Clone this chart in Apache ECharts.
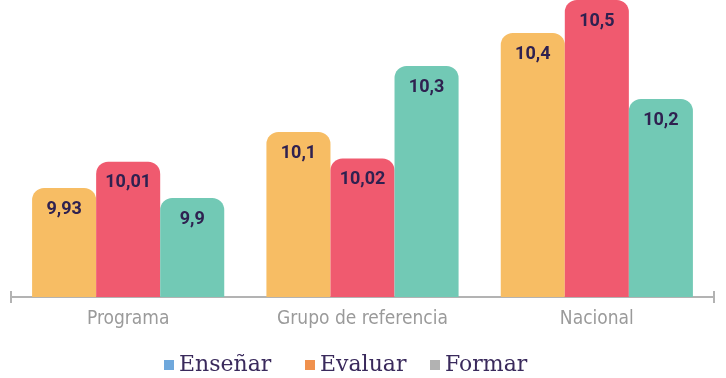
<!DOCTYPE html>
<html>
<head>
<meta charset="utf-8">
<title>Resultados</title>
<script src="https://cdn.jsdelivr.net/npm/echarts@6/dist/echarts.min.js"></script>
<style>
  html, body { margin: 0; padding: 0; background: #fff; }
  #chart { width: 726px; height: 378px; }
</style>
</head>
<body>
<div id="chart"></div>
<script>
// categorias y valores
var categorias = ['Programa', 'Grupo de referencia', 'Nacional'];
var ensenar = [9.93, 10.1, 10.4];
var evaluar = [10.01, 10.02, 10.5];
var formar = [9.9, 10.3, 10.2];

var nombres = ['Enseñar', 'Evaluar', 'Formar'];
var coloresBarra = ['#f7bd64', '#f05a6f', '#72c9b5'];
var coloresLeyenda = ['#6fa8dc', '#f0914d', '#b2b2b2'];
var leyendaIzq = [159, 300, 425];

// etiqueta con coma decimal
function etiqueta(p) {
	return String(p.value).replace('.', ',');
}

function serie(nombre, datos, color) {
	return {
		name: nombre,
		type: 'bar',
		barGap: 0,
		barCategoryGap: '18%',
		itemStyle: { color: color, borderRadius: [12, 12, 0, 0] },
		label: {
			show: true,
			position: 'insideTop',
			distance: 12,
			formatter: etiqueta,
			color: '#2f2150',
			fontFamily: 'Roboto',
			fontWeight: 'bold',
			fontSize: 18
		},
		data: datos
	};
}

// una leyenda por elemento (espaciado irregular del original)
function leyenda(i) {
	return {
		left: leyendaIzq[i],
		top: 349,
		icon: 'rect',
		itemWidth: 10,
		itemHeight: 10,
		textStyle: { fontFamily: 'DejaVu Serif', fontSize: 22, color: '#3a2a5c' },
		data: [{ name: nombres[i], itemStyle: { color: coloresLeyenda[i] } }]
	};
}

var myChart = echarts.init(document.getElementById('chart'));

var option = {
	animation: false,
	grid: { left: 11, right: 12, top: 0, bottom: 81, outerBoundsMode: 'none' },
	legend: [leyenda(0), leyenda(1), leyenda(2)],
	xAxis: [{
		type: 'category',
		data: categorias,
		axisLine: { lineStyle: { color: '#b3b3b3', width: 2 } },
		axisTick: { show: false },
		axisLabel: { margin: 13, color: '#9a9a9a', fontFamily: "'DejaVu Sans Condensed', 'Liberation Sans Narrow', Roboto", fontSize: 19 }
	}, {
		// marcas de los extremos (hacia abajo)
		type: 'value', position: 'bottom', min: 0, max: 1, interval: 1,
		axisLine: { show: false },
		axisTick: { show: true, length: 6, lineStyle: { color: '#b3b3b3', width: 2 } },
		axisLabel: { show: false },
		splitLine: { show: false }
	}, {
		// marcas de los extremos (hacia arriba)
		type: 'value', position: 'bottom', min: 0, max: 1, interval: 1,
		axisLine: { show: false },
		axisTick: { show: true, inside: true, length: 6, lineStyle: { color: '#b3b3b3', width: 2 } },
		axisLabel: { show: false },
		splitLine: { show: false }
	}],
	yAxis: {
		type: 'value',
		min: 9.6,
		max: 10.5,
		show: false
	},
	series: [
		serie(nombres[0], ensenar, coloresBarra[0]),
		serie(nombres[1], evaluar, coloresBarra[1]),
		serie(nombres[2], formar, coloresBarra[2])
	]
};

myChart.setOption(option);
</script>
</body>
</html>
